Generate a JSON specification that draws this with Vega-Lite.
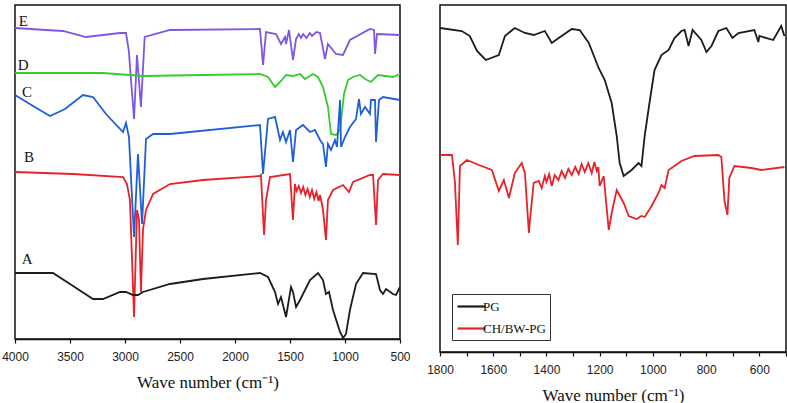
{
  "$schema": "https://vega.github.io/schema/vega-lite/v6.json",
  "padding": {"left": 0, "top": -4, "right": 0, "bottom": 0},
  "background": "white",
  "config": {
    "view": {"stroke": "#111", "strokeWidth": 1.5},
    "title": {"fontSize": 1, "offset": 7, "color": "white"},
    "axis": {
      "domainColor": "#111", "domainWidth": 1.5, "tickColor": "#111", "tickSize": 4, "tickWidth": 1.2,
      "labelFont": "Liberation Sans", "labelFontSize": 12, "labelColor": "#222", "labelFlush": false,
      "titleFont": "Liberation Serif", "titleFontSize": 17, "titleFontWeight": "normal", "titleColor": "#111",
      "grid": false, "labelPadding": 8, "titlePadding": 12
    }
  },
  "resolve": {"scale": {"color": "independent", "x": "independent", "y": "independent"}, "legend": {"color": "independent"}},
  "datasets": {
    "left": [
      {"s":"E","wn":4000,"t":311},{"s":"E","wn":3718,"t":309},{"s":"E","wn":3564,"t":308},{"s":"E","wn":3355,"t":302},{"s":"E","wn":3045,"t":306},{"s":"E","wn":2991,"t":306},{"s":"E","wn":2966,"t":289},{"s":"E","wn":2918,"t":220},{"s":"E","wn":2891,"t":284},{"s":"E","wn":2855,"t":232},{"s":"E","wn":2821,"t":302},{"s":"E","wn":2591,"t":309},{"s":"E","wn":1773,"t":310},{"s":"E","wn":1745,"t":274},{"s":"E","wn":1718,"t":307},{"s":"E","wn":1627,"t":305},{"s":"E","wn":1582,"t":295},{"s":"E","wn":1545,"t":302},{"s":"E","wn":1536,"t":295},{"s":"E","wn":1509,"t":309},{"s":"E","wn":1473,"t":279},{"s":"E","wn":1445,"t":300},{"s":"E","wn":1420,"t":305},{"s":"E","wn":1400,"t":301},{"s":"E","wn":1380,"t":305},{"s":"E","wn":1350,"t":301},{"s":"E","wn":1320,"t":306},{"s":"E","wn":1300,"t":303},{"s":"E","wn":1260,"t":307},{"s":"E","wn":1227,"t":306},{"s":"E","wn":1182,"t":280},{"s":"E","wn":1155,"t":295},{"s":"E","wn":1082,"t":285},{"s":"E","wn":1018,"t":284},{"s":"E","wn":955,"t":299},{"s":"E","wn":773,"t":310},{"s":"E","wn":736,"t":309},{"s":"E","wn":727,"t":285},{"s":"E","wn":709,"t":305},{"s":"E","wn":500,"t":304},
      {"s":"D","wn":4000,"t":266},{"s":"D","wn":3200,"t":266},{"s":"D","wn":2836,"t":263},{"s":"D","wn":2291,"t":264},{"s":"D","wn":1773,"t":265},{"s":"D","wn":1700,"t":262},{"s":"D","wn":1636,"t":252},{"s":"D","wn":1582,"t":258},{"s":"D","wn":1536,"t":264},{"s":"D","wn":1473,"t":263},{"s":"D","wn":1409,"t":265},{"s":"D","wn":1364,"t":260},{"s":"D","wn":1291,"t":265},{"s":"D","wn":1245,"t":262},{"s":"D","wn":1200,"t":252},{"s":"D","wn":1155,"t":232},{"s":"D","wn":1127,"t":205},{"s":"D","wn":1082,"t":204},{"s":"D","wn":1045,"t":209},{"s":"D","wn":1009,"t":245},{"s":"D","wn":973,"t":259},{"s":"D","wn":927,"t":262},{"s":"D","wn":864,"t":264},{"s":"D","wn":818,"t":260},{"s":"D","wn":764,"t":257},{"s":"D","wn":700,"t":264},{"s":"D","wn":564,"t":262},{"s":"D","wn":500,"t":265},
      {"s":"C","wn":4000,"t":244},{"s":"C","wn":3836,"t":233},{"s":"C","wn":3682,"t":223},{"s":"C","wn":3545,"t":230},{"s":"C","wn":3382,"t":244},{"s":"C","wn":3291,"t":242},{"s":"C","wn":3173,"t":225},{"s":"C","wn":3018,"t":207},{"s":"C","wn":2991,"t":216},{"s":"C","wn":2964,"t":202},{"s":"C","wn":2918,"t":102},{"s":"C","wn":2882,"t":185},{"s":"C","wn":2845,"t":115},{"s":"C","wn":2809,"t":200},{"s":"C","wn":2745,"t":205},{"s":"C","wn":2591,"t":205},{"s":"C","wn":1773,"t":214},{"s":"C","wn":1745,"t":165},{"s":"C","wn":1700,"t":220},{"s":"C","wn":1636,"t":222},{"s":"C","wn":1591,"t":199},{"s":"C","wn":1564,"t":207},{"s":"C","wn":1536,"t":197},{"s":"C","wn":1500,"t":209},{"s":"C","wn":1473,"t":177},{"s":"C","wn":1445,"t":209},{"s":"C","wn":1382,"t":214},{"s":"C","wn":1318,"t":207},{"s":"C","wn":1273,"t":209},{"s":"C","wn":1227,"t":199},{"s":"C","wn":1200,"t":195},{"s":"C","wn":1173,"t":172},{"s":"C","wn":1155,"t":195},{"s":"C","wn":1127,"t":189},{"s":"C","wn":1091,"t":199},{"s":"C","wn":1073,"t":192},{"s":"C","wn":1045,"t":239},{"s":"C","wn":1036,"t":192},{"s":"C","wn":1000,"t":202},{"s":"C","wn":955,"t":212},{"s":"C","wn":900,"t":220},{"s":"C","wn":873,"t":240},{"s":"C","wn":855,"t":225},{"s":"C","wn":818,"t":232},{"s":"C","wn":773,"t":225},{"s":"C","wn":764,"t":239},{"s":"C","wn":727,"t":239},{"s":"C","wn":718,"t":197},{"s":"C","wn":691,"t":239},{"s":"C","wn":655,"t":242},{"s":"C","wn":500,"t":239},
      {"s":"B","wn":4000,"t":167},{"s":"B","wn":3473,"t":165},{"s":"B","wn":3018,"t":162},{"s":"B","wn":2982,"t":155},{"s":"B","wn":2955,"t":139},{"s":"B","wn":2918,"t":22},{"s":"B","wn":2891,"t":129},{"s":"B","wn":2873,"t":120},{"s":"B","wn":2855,"t":47},{"s":"B","wn":2836,"t":110},{"s":"B","wn":2809,"t":129},{"s":"B","wn":2745,"t":145},{"s":"B","wn":2591,"t":155},{"s":"B","wn":2291,"t":159},{"s":"B","wn":1773,"t":163},{"s":"B","wn":1764,"t":164},{"s":"B","wn":1736,"t":104},{"s":"B","wn":1718,"t":139},{"s":"B","wn":1682,"t":162},{"s":"B","wn":1500,"t":165},{"s":"B","wn":1473,"t":119},{"s":"B","wn":1455,"t":155},{"s":"B","wn":1440,"t":148},{"s":"B","wn":1420,"t":153},{"s":"B","wn":1400,"t":146},{"s":"B","wn":1380,"t":152},{"s":"B","wn":1360,"t":144},{"s":"B","wn":1340,"t":150},{"s":"B","wn":1320,"t":142},{"s":"B","wn":1300,"t":149},{"s":"B","wn":1280,"t":140},{"s":"B","wn":1260,"t":147},{"s":"B","wn":1240,"t":138},{"s":"B","wn":1227,"t":144},{"s":"B","wn":1210,"t":135},{"s":"B","wn":1200,"t":129},{"s":"B","wn":1173,"t":99},{"s":"B","wn":1155,"t":139},{"s":"B","wn":1109,"t":149},{"s":"B","wn":1018,"t":154},{"s":"B","wn":964,"t":147},{"s":"B","wn":927,"t":157},{"s":"B","wn":773,"t":164},{"s":"B","wn":745,"t":164},{"s":"B","wn":718,"t":114},{"s":"B","wn":700,"t":159},{"s":"B","wn":655,"t":165},{"s":"B","wn":500,"t":164},
      {"s":"A","wn":4000,"t":66},{"s":"A","wn":3655,"t":66},{"s":"A","wn":3500,"t":55},{"s":"A","wn":3291,"t":40},{"s":"A","wn":3200,"t":40},{"s":"A","wn":3045,"t":47},{"s":"A","wn":2991,"t":47},{"s":"A","wn":2927,"t":44},{"s":"A","wn":2882,"t":44},{"s":"A","wn":2836,"t":47},{"s":"A","wn":2591,"t":55},{"s":"A","wn":2291,"t":60},{"s":"A","wn":1773,"t":66},{"s":"A","wn":1700,"t":62},{"s":"A","wn":1636,"t":47},{"s":"A","wn":1609,"t":35},{"s":"A","wn":1582,"t":42},{"s":"A","wn":1536,"t":22},{"s":"A","wn":1491,"t":52},{"s":"A","wn":1473,"t":47},{"s":"A","wn":1445,"t":32},{"s":"A","wn":1409,"t":39},{"s":"A","wn":1318,"t":59},{"s":"A","wn":1245,"t":66},{"s":"A","wn":1200,"t":59},{"s":"A","wn":1173,"t":45},{"s":"A","wn":1145,"t":47},{"s":"A","wn":1109,"t":29},{"s":"A","wn":1045,"t":7},{"s":"A","wn":1018,"t":1},{"s":"A","wn":991,"t":5},{"s":"A","wn":955,"t":29},{"s":"A","wn":900,"t":55},{"s":"A","wn":836,"t":66},{"s":"A","wn":718,"t":65},{"s":"A","wn":682,"t":49},{"s":"A","wn":655,"t":45},{"s":"A","wn":627,"t":50},{"s":"A","wn":564,"t":45},{"s":"A","wn":536,"t":44},{"s":"A","wn":500,"t":52}
    ],
    "labels": [
      {"s":"E","wn":3925,"t":318},{"s":"D","wn":3925,"t":274},{"s":"C","wn":3890,"t":247},{"s":"B","wn":3873,"t":182},{"s":"A","wn":3890,"t":80}
    ],
    "right": [
      {"s":"PG","wn":1800,"t":324},{"s":"PG","wn":1718,"t":321},{"s":"PG","wn":1688,"t":316},{"s":"PG","wn":1661,"t":301},{"s":"PG","wn":1628,"t":292},{"s":"PG","wn":1579,"t":297},{"s":"PG","wn":1556,"t":316},{"s":"PG","wn":1519,"t":324},{"s":"PG","wn":1481,"t":319},{"s":"PG","wn":1448,"t":317},{"s":"PG","wn":1406,"t":321},{"s":"PG","wn":1380,"t":309},{"s":"PG","wn":1354,"t":314},{"s":"PG","wn":1305,"t":323},{"s":"PG","wn":1275,"t":322},{"s":"PG","wn":1241,"t":309},{"s":"PG","wn":1204,"t":284},{"s":"PG","wn":1181,"t":272},{"s":"PG","wn":1155,"t":249},{"s":"PG","wn":1136,"t":216},{"s":"PG","wn":1125,"t":189},{"s":"PG","wn":1110,"t":176},{"s":"PG","wn":1080,"t":182},{"s":"PG","wn":1054,"t":189},{"s":"PG","wn":1043,"t":186},{"s":"PG","wn":1031,"t":216},{"s":"PG","wn":1013,"t":249},{"s":"PG","wn":994,"t":282},{"s":"PG","wn":968,"t":297},{"s":"PG","wn":941,"t":302},{"s":"PG","wn":919,"t":314},{"s":"PG","wn":893,"t":321},{"s":"PG","wn":881,"t":322},{"s":"PG","wn":866,"t":306},{"s":"PG","wn":851,"t":322},{"s":"PG","wn":818,"t":312},{"s":"PG","wn":799,"t":300},{"s":"PG","wn":780,"t":306},{"s":"PG","wn":754,"t":321},{"s":"PG","wn":724,"t":324},{"s":"PG","wn":701,"t":314},{"s":"PG","wn":679,"t":319},{"s":"PG","wn":619,"t":322},{"s":"PG","wn":604,"t":310},{"s":"PG","wn":600,"t":316},{"s":"PG","wn":548,"t":312},{"s":"PG","wn":518,"t":326},{"s":"PG","wn":506,"t":316},
      {"s":"CH/BW-PG","wn":1800,"t":197},{"s":"CH/BW-PG","wn":1755,"t":197},{"s":"CH/BW-PG","wn":1744,"t":170},{"s":"CH/BW-PG","wn":1733,"t":107},{"s":"CH/BW-PG","wn":1725,"t":186},{"s":"CH/BW-PG","wn":1699,"t":192},{"s":"CH/BW-PG","wn":1654,"t":187},{"s":"CH/BW-PG","wn":1605,"t":182},{"s":"CH/BW-PG","wn":1579,"t":161},{"s":"CH/BW-PG","wn":1560,"t":172},{"s":"CH/BW-PG","wn":1541,"t":154},{"s":"CH/BW-PG","wn":1519,"t":179},{"s":"CH/BW-PG","wn":1493,"t":189},{"s":"CH/BW-PG","wn":1481,"t":179},{"s":"CH/BW-PG","wn":1466,"t":119},{"s":"CH/BW-PG","wn":1463,"t":129},{"s":"CH/BW-PG","wn":1448,"t":169},{"s":"CH/BW-PG","wn":1429,"t":171},{"s":"CH/BW-PG","wn":1418,"t":164},{"s":"CH/BW-PG","wn":1406,"t":176},{"s":"CH/BW-PG","wn":1400,"t":170},{"s":"CH/BW-PG","wn":1390,"t":178},{"s":"CH/BW-PG","wn":1380,"t":166},{"s":"CH/BW-PG","wn":1369,"t":177},{"s":"CH/BW-PG","wn":1355,"t":172},{"s":"CH/BW-PG","wn":1343,"t":181},{"s":"CH/BW-PG","wn":1330,"t":174},{"s":"CH/BW-PG","wn":1318,"t":183},{"s":"CH/BW-PG","wn":1305,"t":177},{"s":"CH/BW-PG","wn":1292,"t":185},{"s":"CH/BW-PG","wn":1279,"t":178},{"s":"CH/BW-PG","wn":1268,"t":188},{"s":"CH/BW-PG","wn":1256,"t":180},{"s":"CH/BW-PG","wn":1243,"t":189},{"s":"CH/BW-PG","wn":1230,"t":179},{"s":"CH/BW-PG","wn":1220,"t":190},{"s":"CH/BW-PG","wn":1211,"t":181},{"s":"CH/BW-PG","wn":1205,"t":185},{"s":"CH/BW-PG","wn":1200,"t":166},{"s":"CH/BW-PG","wn":1185,"t":176},{"s":"CH/BW-PG","wn":1166,"t":122},{"s":"CH/BW-PG","wn":1155,"t":139},{"s":"CH/BW-PG","wn":1136,"t":162},{"s":"CH/BW-PG","wn":1110,"t":149},{"s":"CH/BW-PG","wn":1091,"t":136},{"s":"CH/BW-PG","wn":1061,"t":133},{"s":"CH/BW-PG","wn":1043,"t":136},{"s":"CH/BW-PG","wn":1031,"t":135},{"s":"CH/BW-PG","wn":1005,"t":146},{"s":"CH/BW-PG","wn":979,"t":159},{"s":"CH/BW-PG","wn":968,"t":167},{"s":"CH/BW-PG","wn":956,"t":164},{"s":"CH/BW-PG","wn":941,"t":182},{"s":"CH/BW-PG","wn":893,"t":191},{"s":"CH/BW-PG","wn":844,"t":196},{"s":"CH/BW-PG","wn":754,"t":197},{"s":"CH/BW-PG","wn":743,"t":195},{"s":"CH/BW-PG","wn":731,"t":151},{"s":"CH/BW-PG","wn":720,"t":137},{"s":"CH/BW-PG","wn":713,"t":174},{"s":"CH/BW-PG","wn":694,"t":186},{"s":"CH/BW-PG","wn":630,"t":184},{"s":"CH/BW-PG","wn":593,"t":182},{"s":"CH/BW-PG","wn":506,"t":185}
    ]
  },
  "hconcat": [
    {
      "width": 385,
      "height": 334,
      "title": {"text": " "},
      "layer": [
        {
          "data": {"name": "left"},
          "mark": {"type": "line", "strokeWidth": 1.8, "clip": true},
          "encoding": {
            "x": {"field": "wn", "type": "quantitative", "scale": {"domain": [4000, 500], "nice": false}, "title": "Wave number (cm⁻¹)",
              "axis": {"values": [4000,3750,3500,3250,3000,2750,2500,2250,2000,1750,1500,1250,1000,750,500], "format": "d", "labelExpr": "datum.value % 500 === 0 ? datum.label : ''"}},
            "y": {"field": "t", "type": "quantitative", "scale": {"domain": [0, 334], "nice": false, "zero": false}, "axis": null},
            "color": {"field": "s", "type": "nominal", "scale": {"domain": ["A","B","C","D","E"], "range": ["#1c1c1c","#e8222a","#1f5fd8","#35cc2c","#7f55e6"]}, "legend": null}
          }
        },
        {
          "data": {"name": "labels"},
          "mark": {"type": "text", "font": "Liberation Serif", "fontSize": 15, "color": "#111", "align": "center", "baseline": "middle"},
          "encoding": {
            "x": {"field": "wn", "type": "quantitative"},
            "y": {"field": "t", "type": "quantitative"},
            "text": {"field": "s", "type": "nominal"}
          }
        }
      ]
    },
    {
      "width": 346,
      "height": 347,
      "data": {"name": "right"},
      "mark": {"type": "line", "strokeWidth": 1.8, "clip": true},
      "encoding": {
        "x": {"field": "wn", "type": "quantitative", "scale": {"domain": [1800, 500], "nice": false}, "title": "Wave number (cm⁻¹)",
          "axis": {"values": [1800,1700,1600,1500,1400,1300,1200,1100,1000,900,800,700,600,500], "format": "d", "labelExpr": "datum.value % 200 === 0 ? datum.label : ''"}},
        "y": {"field": "t", "type": "quantitative", "scale": {"domain": [0, 347], "nice": false, "zero": false}, "axis": null},
        "color": {"field": "s", "type": "nominal", "scale": {"domain": ["PG","CH/BW-PG"], "range": ["#1c1c1c","#e8222a"]},
          "legend": {"orient": "bottom-left", "offset": 12, "title": null, "strokeColor": "#333", "padding": 4, "labelFont": "Liberation Serif", "labelFontSize": 13, "labelColor": "#111", "symbolType": "M-1,0L3,0", "symbolStrokeWidth": 2.2, "symbolSize": 196, "rowPadding": 6, "labelOffset": 10}}
      }
    }
  ],
  "spacing": 14
}
